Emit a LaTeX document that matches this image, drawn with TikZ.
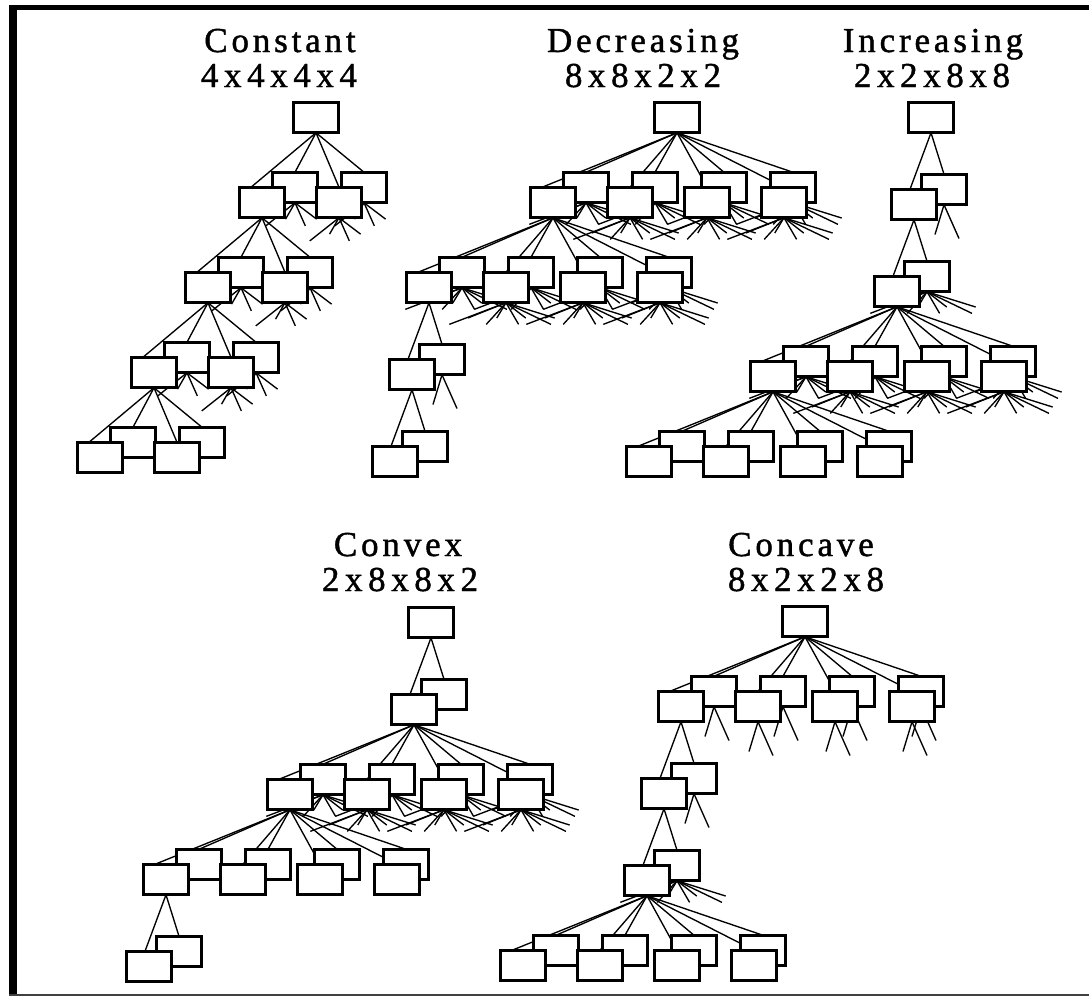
\documentclass[tikz,border=0pt]{standalone}
\usepackage{fontspec}
\newfontfamily\ttlfont[LetterSpace=11,FakeBold=1.2]{Liberation Serif}
\newfontfamily\numfont[LetterSpace=16,FakeBold=1.2]{Liberation Serif}
\usetikzlibrary{calc}
\pgfdeclarelayer{bglayer}
\pgfdeclarelayer{edgelayer}
\pgfdeclarelayer{backlayer}
\pgfdeclarelayer{fstublayer}
\pgfsetlayers{bglayer,edgelayer,backlayer,fstublayer,main}
\tikzset{
  box/.style={draw=black, fill=white, line width=3.4pt, minimum width=45.5pt, minimum height=30.5pt, inner sep=0pt, outer sep=0pt},
  edge/.style={line width=1.35pt, black},
  ttl/.style={font=\ttlfont\fontsize{35}{35}\selectfont, inner sep=0pt, anchor=base},
  num/.style={font=\numfont\fontsize{35}{35}\selectfont, inner sep=0pt, anchor=base},
}
\newcommand\qgeomA[1]{%
  \pgfmathsetmacro\qgH{ifthenelse(#1==2,41,ifthenelse(#1==4,78,148))}%
  \pgfmathsetmacro\qgV{ifthenelse(#1==2,54,52)}%
  \pgfmathsetmacro\qgB{ifthenelse(#1==2,30,33)}%
  \pgfmathsetmacro\qgS{ifthenelse(#1==2,-4,-11)}%
}
\newcommand\qgeomB[1]{%
  \pgfmathsetmacro\qsH{ifthenelse(#1==2,41,ifthenelse(#1==4,78,148))}%
  \pgfmathsetmacro\qsV{ifthenelse(#1==2,54,52)}%
  \pgfmathsetmacro\qsB{ifthenelse(#1==2,30,33)}%
  \pgfmathsetmacro\qsA{ifthenelse(#1==2,20,13)}%
  \pgfmathsetmacro\qstubf{ifthenelse(#1==8,0.42,0.45)}%
}
% stubs: #1 node, #2 cx, #3 cy, #4 k'
\newcommand\qstubs[4]{%
  \ifnum#4=2
    \pgfmathsetmacro\qex{#2-9}\pgfmathsetmacro\qey{#3+15+30}%
    \coordinate (#1-sf0) at (\qex,\qey);
    \draw[edge] (#1.south) -- (#1-sf0);
    \pgfmathsetmacro\qex{#2+15}\pgfmathsetmacro\qey{#3+15+34}%
    \coordinate (#1-sb0) at (\qex,\qey);
    \draw[edge] (#1.south) -- (#1-sb0);
  \else\ifnum#4>0
  \qgeomB{#4}%
  \pgfmathtruncatemacro\qsm{#4/2-1}%
  \pgfmathsetmacro\qcby{#3+15}%
  \foreach \i in {0,...,\qsm}{%
    \pgfmathsetmacro\qtx{ifthenelse(\i==0,#2-\qsH+\qsA,#2-\qsH+77*\i+24)}%
    \pgfmathsetmacro\qty{\qcby+\qsV}%
    \pgfmathsetmacro\qex{#2+\qstubf*(\qtx-(#2))}%
    \pgfmathsetmacro\qey{\qcby+\qstubf*(\qty-\qcby)}%
    \coordinate (#1-sf\i) at (\qex,\qey);
    \draw[edge] (#1.south) -- (#1-sf\i);
    \pgfmathsetmacro\qtx{#2-\qsH+\qsB+69*\i+24}%
    \pgfmathsetmacro\qty{\qcby+\qsV-15}%
    \pgfmathsetmacro\qex{#2+\qstubf*(\qtx-(#2))}%
    \pgfmathsetmacro\qey{\qcby+\qstubf*(\qty-\qcby)}%
    \coordinate (#1-sb\i) at (\qex,\qey);
    \draw[edge] (#1.south) -- (#1-sb\i);
  }%
  \fi\fi
}
% group: #1 name, #2 k, #3 parent node, #4 px, #5 py, #6 stub k'
\newcommand\qgrp[6]{%
  \qgeomA{#2}%
  \pgfmathtruncatemacro\qgm{#2/2-1}%
  \pgfmathsetmacro\qpby{#5+16.5}%
  \foreach \j in {0,...,\qgm}{%
    \pgfmathsetmacro\qfx{#4-\qgH+77*\j+24}%
    \pgfmathsetmacro\qfy{\qpby+\qgV+16.5}%
    \pgfmathsetmacro\qbx{#4-\qgH+\qgB+69*\j+24}%
    \pgfmathsetmacro\qby{\qpby+\qgV+1.5}%
    \node[box] (#1f\j) at (\qfx,\qfy) {};
    \begin{pgfonlayer}{backlayer}\node[box] (#1b\j) at (\qbx,\qby) {};\end{pgfonlayer}
    \begin{pgfonlayer}{edgelayer}
      \ifnum\j=0
        \draw[edge] (#3.south) -- ([xshift=\qgS pt]#1f\j.north);
      \else
        \draw[edge] (#3.south) -- (#1f\j.north);
      \fi
      \draw[edge] (#3.south) -- (#1b\j.north);
      \qstubs{#1b\j}{\qbx}{\qby}{#6}
    \end{pgfonlayer}
    \begin{pgfonlayer}{fstublayer}
      \ifnum\j>0 \qstubs{#1f\j}{\qfx}{\qfy}{#6}\fi
    \end{pgfonlayer}
  }%
  \pgfmathsetmacro\qnx{#4-\qgH+24}\xdef\qnx{\qnx}%
  \pgfmathsetmacro\qny{\qpby+\qgV+16.5}\xdef\qny{\qny}%
}
\begin{document}
\begin{tikzpicture}[x=1pt,y=-1pt]
\useasboundingbox (0,0) rectangle (1089,996);
\begin{pgfonlayer}{bglayer}
\fill[white] (0,0) rectangle (1089,996);
\end{pgfonlayer}
% frame
\fill[black] (9,5) rectangle (1089,10);
\fill[black] (9,5) rectangle (17,996);
\fill[black!75] (9,994) rectangle (1089,996);
% titles
\node[ttl] (tA1) at (280,52) {Constant};
\node[num] (tA2) at (279,87) {4x4x4x4};
\node[ttl] (tB1) at (643,52) {Decreasing};
\node[num] (tB2) at (643,87) {8x8x2x2};
\node[ttl] (tC1) at (933,52) {Increasing};
\node[num] (tC2) at (932,87) {2x2x8x8};
\node[ttl] (tD1) at (398,556) {Convex};
\node[num] (tD2) at (400,591) {2x8x8x2};
\node[ttl] (tE1) at (801,556) {Concave};
\node[num] (tE2) at (806,591) {8x2x2x8};
% Constant
\node[box] (A0) at (316,117.5) {};
\qgrp{A1}{4}{A0}{316}{117.5}{4}
\qgrp{A2}{4}{A1f0}{\qnx}{\qny}{4}
\qgrp{A3}{4}{A2f0}{\qnx}{\qny}{4}
\qgrp{A4}{4}{A3f0}{\qnx}{\qny}{0}
% Decreasing
\node[box] (B0) at (677,117.5) {};
\qgrp{B1}{8}{B0}{677}{117.5}{8}
\qgrp{B2}{8}{B1f0}{\qnx}{\qny}{8}
\qgrp{B3}{2}{B2f0}{\qnx}{\qny}{2}
\qgrp{B4}{2}{B3f0}{\qnx}{\qny}{0}
% Increasing
\node[box] (C0) at (931,117.5) {};
\qgrp{C1}{2}{C0}{931}{117.5}{2}
\qgrp{C2}{2}{C1f0}{\qnx}{\qny}{8}
\qgrp{C3}{8}{C2f0}{\qnx}{\qny}{8}
\qgrp{C4}{8}{C3f0}{\qnx}{\qny}{0}
% Convex
\node[box] (D0) at (431,622.5) {};
\qgrp{D1}{2}{D0}{431}{622.5}{0}
\qgrp{D2}{8}{D1f0}{\qnx}{\qny}{8}
\qgrp{D3}{8}{D2f0}{\qnx}{\qny}{0}
\qgrp{D4}{2}{D3f0}{\qnx}{\qny}{0}
% Concave
\node[box] (E0) at (805,621.5) {};
\qgrp{E1}{8}{E0}{805}{621.5}{2}
\qgrp{E2}{2}{E1f0}{\qnx}{\qny}{2}
\qgrp{E3}{2}{E2f0}{\qnx}{\qny}{8}
\qgrp{E4}{8}{E3f0}{\qnx}{\qny}{0}
\end{tikzpicture}
\end{document}
